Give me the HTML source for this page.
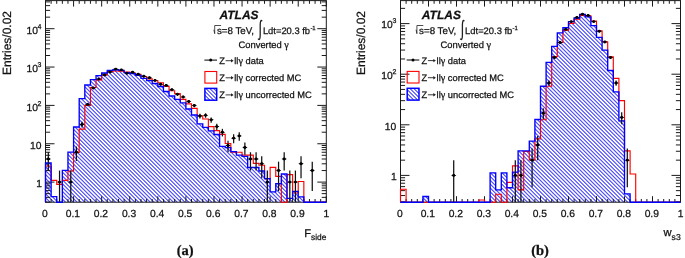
<!DOCTYPE html>
<html><head><meta charset="utf-8"><style>
html,body{margin:0;padding:0;background:#fff;}
body{width:685px;height:258px;overflow:hidden;}
svg{display:block;font-family:"Liberation Sans",sans-serif;fill:#111;text-rendering:geometricPrecision;will-change:transform;}
text{stroke:#111;stroke-width:0.25px;}
</style></head><body>
<svg width="685" height="258" viewBox="0 0 685 258">
<defs><linearGradient id="hatch" gradientUnits="userSpaceOnUse" x1="0" y1="0" x2="1.925" y2="-1.925" spreadMethod="repeat"><stop offset="0.0000" stop-color="rgb(255,255,255)"/><stop offset="0.0417" stop-color="rgb(255,255,255)"/><stop offset="0.0833" stop-color="rgb(255,255,255)"/><stop offset="0.1250" stop-color="rgb(255,255,255)"/><stop offset="0.1667" stop-color="rgb(246,246,255)"/><stop offset="0.2083" stop-color="rgb(220,220,255)"/><stop offset="0.2500" stop-color="rgb(191,191,255)"/><stop offset="0.2917" stop-color="rgb(163,163,255)"/><stop offset="0.3333" stop-color="rgb(136,136,255)"/><stop offset="0.3750" stop-color="rgb(114,114,255)"/><stop offset="0.4167" stop-color="rgb(96,96,255)"/><stop offset="0.4583" stop-color="rgb(85,85,255)"/><stop offset="0.5000" stop-color="rgb(82,82,255)"/><stop offset="0.5417" stop-color="rgb(85,85,255)"/><stop offset="0.5833" stop-color="rgb(96,96,255)"/><stop offset="0.6250" stop-color="rgb(114,114,255)"/><stop offset="0.6667" stop-color="rgb(136,136,255)"/><stop offset="0.7083" stop-color="rgb(163,163,255)"/><stop offset="0.7500" stop-color="rgb(191,191,255)"/><stop offset="0.7917" stop-color="rgb(220,220,255)"/><stop offset="0.8333" stop-color="rgb(246,246,255)"/><stop offset="0.8750" stop-color="rgb(255,255,255)"/><stop offset="0.9167" stop-color="rgb(255,255,255)"/><stop offset="0.9583" stop-color="rgb(255,255,255)"/><stop offset="1.0000" stop-color="rgb(255,255,255)"/></linearGradient></defs>
<path d="M45.5,202.2 L45.5,163 L51.12,163 L51.12,196.6 L56.73,196.6 L56.73,202.2 L62.35,202.2 L62.35,170.3 L67.96,170.3 L67.96,152.1 L73.58,152.1 L73.58,127 L79.2,127 L79.2,98.6 L84.81,98.6 L84.81,85 L90.43,85 L90.43,79.6 L96.04,79.6 L96.04,75.6 L101.66,75.6 L101.66,73 L107.28,73 L107.28,70.4 L112.89,70.4 L112.89,69.7 L118.51,69.7 L118.51,70.3 L124.12,70.3 L124.12,72.6 L129.74,72.6 L129.74,73.6 L135.36,73.6 L135.36,75.4 L140.97,75.4 L140.97,78.3 L146.59,78.3 L146.59,80.6 L152.2,80.6 L152.2,83.5 L157.82,83.5 L157.82,86.5 L163.44,86.5 L163.44,91.5 L169.05,91.5 L169.05,96 L174.67,96 L174.67,99.4 L180.28,99.4 L180.28,102.9 L185.9,102.9 L185.9,109 L191.52,109 L191.52,115 L197.13,115 L197.13,123.8 L202.75,123.8 L202.75,127.3 L208.36,127.3 L208.36,130.8 L213.98,130.8 L213.98,134.5 L219.6,134.5 L219.6,146.3 L225.21,146.3 L225.21,147.6 L230.83,147.6 L230.83,151.6 L236.44,151.6 L236.44,155.1 L242.06,155.1 L242.06,156.3 L247.68,156.3 L247.68,167.5 L253.29,167.5 L253.29,167.5 L258.91,167.5 L258.91,171 L264.52,171 L264.52,178.6 L270.14,178.6 L270.14,191.8 L275.76,191.8 L275.76,183.7 L281.37,183.7 L281.37,174 L286.99,174 L286.99,198.3 L292.6,198.3 L292.6,191.4 L298.22,191.4 L298.22,196.8 L303.84,196.8 L303.84,202.2 L309.45,202.2 L309.45,202.2 L315.07,202.2 L315.07,202.2 L320.68,202.2 L320.68,202.2 L326.3,202.2 L326.3,202.2 Z" fill="url(#hatch)" stroke="none"/>
<g stroke="#1a1a1a" stroke-width="1"><rect x="45.5" y="0.6" width="280.8" height="201.6" fill="none"/>
<line x1="45.5" y1="202.2" x2="45.5" y2="196.2"/>
<line x1="45.5" y1="0.6" x2="45.5" y2="6.6"/>
<line x1="51.12" y1="202.2" x2="51.12" y2="199"/>
<line x1="51.12" y1="0.6" x2="51.12" y2="3.8"/>
<line x1="56.73" y1="202.2" x2="56.73" y2="199"/>
<line x1="56.73" y1="0.6" x2="56.73" y2="3.8"/>
<line x1="62.35" y1="202.2" x2="62.35" y2="199"/>
<line x1="62.35" y1="0.6" x2="62.35" y2="3.8"/>
<line x1="67.96" y1="202.2" x2="67.96" y2="199"/>
<line x1="67.96" y1="0.6" x2="67.96" y2="3.8"/>
<line x1="73.58" y1="202.2" x2="73.58" y2="196.2"/>
<line x1="73.58" y1="0.6" x2="73.58" y2="6.6"/>
<line x1="79.2" y1="202.2" x2="79.2" y2="199"/>
<line x1="79.2" y1="0.6" x2="79.2" y2="3.8"/>
<line x1="84.81" y1="202.2" x2="84.81" y2="199"/>
<line x1="84.81" y1="0.6" x2="84.81" y2="3.8"/>
<line x1="90.43" y1="202.2" x2="90.43" y2="199"/>
<line x1="90.43" y1="0.6" x2="90.43" y2="3.8"/>
<line x1="96.04" y1="202.2" x2="96.04" y2="199"/>
<line x1="96.04" y1="0.6" x2="96.04" y2="3.8"/>
<line x1="101.66" y1="202.2" x2="101.66" y2="196.2"/>
<line x1="101.66" y1="0.6" x2="101.66" y2="6.6"/>
<line x1="107.28" y1="202.2" x2="107.28" y2="199"/>
<line x1="107.28" y1="0.6" x2="107.28" y2="3.8"/>
<line x1="112.89" y1="202.2" x2="112.89" y2="199"/>
<line x1="112.89" y1="0.6" x2="112.89" y2="3.8"/>
<line x1="118.51" y1="202.2" x2="118.51" y2="199"/>
<line x1="118.51" y1="0.6" x2="118.51" y2="3.8"/>
<line x1="124.12" y1="202.2" x2="124.12" y2="199"/>
<line x1="124.12" y1="0.6" x2="124.12" y2="3.8"/>
<line x1="129.74" y1="202.2" x2="129.74" y2="196.2"/>
<line x1="129.74" y1="0.6" x2="129.74" y2="6.6"/>
<line x1="135.36" y1="202.2" x2="135.36" y2="199"/>
<line x1="135.36" y1="0.6" x2="135.36" y2="3.8"/>
<line x1="140.97" y1="202.2" x2="140.97" y2="199"/>
<line x1="140.97" y1="0.6" x2="140.97" y2="3.8"/>
<line x1="146.59" y1="202.2" x2="146.59" y2="199"/>
<line x1="146.59" y1="0.6" x2="146.59" y2="3.8"/>
<line x1="152.2" y1="202.2" x2="152.2" y2="199"/>
<line x1="152.2" y1="0.6" x2="152.2" y2="3.8"/>
<line x1="157.82" y1="202.2" x2="157.82" y2="196.2"/>
<line x1="157.82" y1="0.6" x2="157.82" y2="6.6"/>
<line x1="163.44" y1="202.2" x2="163.44" y2="199"/>
<line x1="163.44" y1="0.6" x2="163.44" y2="3.8"/>
<line x1="169.05" y1="202.2" x2="169.05" y2="199"/>
<line x1="169.05" y1="0.6" x2="169.05" y2="3.8"/>
<line x1="174.67" y1="202.2" x2="174.67" y2="199"/>
<line x1="174.67" y1="0.6" x2="174.67" y2="3.8"/>
<line x1="180.28" y1="202.2" x2="180.28" y2="199"/>
<line x1="180.28" y1="0.6" x2="180.28" y2="3.8"/>
<line x1="185.9" y1="202.2" x2="185.9" y2="196.2"/>
<line x1="185.9" y1="0.6" x2="185.9" y2="6.6"/>
<line x1="191.52" y1="202.2" x2="191.52" y2="199"/>
<line x1="191.52" y1="0.6" x2="191.52" y2="3.8"/>
<line x1="197.13" y1="202.2" x2="197.13" y2="199"/>
<line x1="197.13" y1="0.6" x2="197.13" y2="3.8"/>
<line x1="202.75" y1="202.2" x2="202.75" y2="199"/>
<line x1="202.75" y1="0.6" x2="202.75" y2="3.8"/>
<line x1="208.36" y1="202.2" x2="208.36" y2="199"/>
<line x1="208.36" y1="0.6" x2="208.36" y2="3.8"/>
<line x1="213.98" y1="202.2" x2="213.98" y2="196.2"/>
<line x1="213.98" y1="0.6" x2="213.98" y2="6.6"/>
<line x1="219.6" y1="202.2" x2="219.6" y2="199"/>
<line x1="219.6" y1="0.6" x2="219.6" y2="3.8"/>
<line x1="225.21" y1="202.2" x2="225.21" y2="199"/>
<line x1="225.21" y1="0.6" x2="225.21" y2="3.8"/>
<line x1="230.83" y1="202.2" x2="230.83" y2="199"/>
<line x1="230.83" y1="0.6" x2="230.83" y2="3.8"/>
<line x1="236.44" y1="202.2" x2="236.44" y2="199"/>
<line x1="236.44" y1="0.6" x2="236.44" y2="3.8"/>
<line x1="242.06" y1="202.2" x2="242.06" y2="196.2"/>
<line x1="242.06" y1="0.6" x2="242.06" y2="6.6"/>
<line x1="247.68" y1="202.2" x2="247.68" y2="199"/>
<line x1="247.68" y1="0.6" x2="247.68" y2="3.8"/>
<line x1="253.29" y1="202.2" x2="253.29" y2="199"/>
<line x1="253.29" y1="0.6" x2="253.29" y2="3.8"/>
<line x1="258.91" y1="202.2" x2="258.91" y2="199"/>
<line x1="258.91" y1="0.6" x2="258.91" y2="3.8"/>
<line x1="264.52" y1="202.2" x2="264.52" y2="199"/>
<line x1="264.52" y1="0.6" x2="264.52" y2="3.8"/>
<line x1="270.14" y1="202.2" x2="270.14" y2="196.2"/>
<line x1="270.14" y1="0.6" x2="270.14" y2="6.6"/>
<line x1="275.76" y1="202.2" x2="275.76" y2="199"/>
<line x1="275.76" y1="0.6" x2="275.76" y2="3.8"/>
<line x1="281.37" y1="202.2" x2="281.37" y2="199"/>
<line x1="281.37" y1="0.6" x2="281.37" y2="3.8"/>
<line x1="286.99" y1="202.2" x2="286.99" y2="199"/>
<line x1="286.99" y1="0.6" x2="286.99" y2="3.8"/>
<line x1="292.6" y1="202.2" x2="292.6" y2="199"/>
<line x1="292.6" y1="0.6" x2="292.6" y2="3.8"/>
<line x1="298.22" y1="202.2" x2="298.22" y2="196.2"/>
<line x1="298.22" y1="0.6" x2="298.22" y2="6.6"/>
<line x1="303.84" y1="202.2" x2="303.84" y2="199"/>
<line x1="303.84" y1="0.6" x2="303.84" y2="3.8"/>
<line x1="309.45" y1="202.2" x2="309.45" y2="199"/>
<line x1="309.45" y1="0.6" x2="309.45" y2="3.8"/>
<line x1="315.07" y1="202.2" x2="315.07" y2="199"/>
<line x1="315.07" y1="0.6" x2="315.07" y2="3.8"/>
<line x1="320.68" y1="202.2" x2="320.68" y2="199"/>
<line x1="320.68" y1="0.6" x2="320.68" y2="3.8"/>
<line x1="326.3" y1="202.2" x2="326.3" y2="196.2"/>
<line x1="326.3" y1="0.6" x2="326.3" y2="6.6"/>
<line x1="45.5" y1="202.15" x2="50.1" y2="202.15"/>
<line x1="326.3" y1="202.15" x2="321.7" y2="202.15"/>
<line x1="45.5" y1="197.36" x2="50.1" y2="197.36"/>
<line x1="326.3" y1="197.36" x2="321.7" y2="197.36"/>
<line x1="45.5" y1="193.64" x2="50.1" y2="193.64"/>
<line x1="326.3" y1="193.64" x2="321.7" y2="193.64"/>
<line x1="45.5" y1="190.61" x2="50.1" y2="190.61"/>
<line x1="326.3" y1="190.61" x2="321.7" y2="190.61"/>
<line x1="45.5" y1="188.04" x2="50.1" y2="188.04"/>
<line x1="326.3" y1="188.04" x2="321.7" y2="188.04"/>
<line x1="45.5" y1="185.82" x2="50.1" y2="185.82"/>
<line x1="326.3" y1="185.82" x2="321.7" y2="185.82"/>
<line x1="45.5" y1="183.85" x2="50.1" y2="183.85"/>
<line x1="326.3" y1="183.85" x2="321.7" y2="183.85"/>
<line x1="45.5" y1="182.1" x2="54.5" y2="182.1"/>
<line x1="326.3" y1="182.1" x2="317.3" y2="182.1"/>
<line x1="45.5" y1="170.56" x2="50.1" y2="170.56"/>
<line x1="326.3" y1="170.56" x2="321.7" y2="170.56"/>
<line x1="45.5" y1="163.8" x2="50.1" y2="163.8"/>
<line x1="326.3" y1="163.8" x2="321.7" y2="163.8"/>
<line x1="45.5" y1="159.01" x2="50.1" y2="159.01"/>
<line x1="326.3" y1="159.01" x2="321.7" y2="159.01"/>
<line x1="45.5" y1="155.29" x2="50.1" y2="155.29"/>
<line x1="326.3" y1="155.29" x2="321.7" y2="155.29"/>
<line x1="45.5" y1="152.26" x2="50.1" y2="152.26"/>
<line x1="326.3" y1="152.26" x2="321.7" y2="152.26"/>
<line x1="45.5" y1="149.69" x2="50.1" y2="149.69"/>
<line x1="326.3" y1="149.69" x2="321.7" y2="149.69"/>
<line x1="45.5" y1="147.47" x2="50.1" y2="147.47"/>
<line x1="326.3" y1="147.47" x2="321.7" y2="147.47"/>
<line x1="45.5" y1="145.5" x2="50.1" y2="145.5"/>
<line x1="326.3" y1="145.5" x2="321.7" y2="145.5"/>
<line x1="45.5" y1="143.75" x2="54.5" y2="143.75"/>
<line x1="326.3" y1="143.75" x2="317.3" y2="143.75"/>
<line x1="45.5" y1="132.21" x2="50.1" y2="132.21"/>
<line x1="326.3" y1="132.21" x2="321.7" y2="132.21"/>
<line x1="45.5" y1="125.45" x2="50.1" y2="125.45"/>
<line x1="326.3" y1="125.45" x2="321.7" y2="125.45"/>
<line x1="45.5" y1="120.66" x2="50.1" y2="120.66"/>
<line x1="326.3" y1="120.66" x2="321.7" y2="120.66"/>
<line x1="45.5" y1="116.94" x2="50.1" y2="116.94"/>
<line x1="326.3" y1="116.94" x2="321.7" y2="116.94"/>
<line x1="45.5" y1="113.91" x2="50.1" y2="113.91"/>
<line x1="326.3" y1="113.91" x2="321.7" y2="113.91"/>
<line x1="45.5" y1="111.34" x2="50.1" y2="111.34"/>
<line x1="326.3" y1="111.34" x2="321.7" y2="111.34"/>
<line x1="45.5" y1="109.12" x2="50.1" y2="109.12"/>
<line x1="326.3" y1="109.12" x2="321.7" y2="109.12"/>
<line x1="45.5" y1="107.15" x2="50.1" y2="107.15"/>
<line x1="326.3" y1="107.15" x2="321.7" y2="107.15"/>
<line x1="45.5" y1="105.4" x2="54.5" y2="105.4"/>
<line x1="326.3" y1="105.4" x2="317.3" y2="105.4"/>
<line x1="45.5" y1="93.86" x2="50.1" y2="93.86"/>
<line x1="326.3" y1="93.86" x2="321.7" y2="93.86"/>
<line x1="45.5" y1="87.1" x2="50.1" y2="87.1"/>
<line x1="326.3" y1="87.1" x2="321.7" y2="87.1"/>
<line x1="45.5" y1="82.31" x2="50.1" y2="82.31"/>
<line x1="326.3" y1="82.31" x2="321.7" y2="82.31"/>
<line x1="45.5" y1="78.59" x2="50.1" y2="78.59"/>
<line x1="326.3" y1="78.59" x2="321.7" y2="78.59"/>
<line x1="45.5" y1="75.56" x2="50.1" y2="75.56"/>
<line x1="326.3" y1="75.56" x2="321.7" y2="75.56"/>
<line x1="45.5" y1="72.99" x2="50.1" y2="72.99"/>
<line x1="326.3" y1="72.99" x2="321.7" y2="72.99"/>
<line x1="45.5" y1="70.77" x2="50.1" y2="70.77"/>
<line x1="326.3" y1="70.77" x2="321.7" y2="70.77"/>
<line x1="45.5" y1="68.8" x2="50.1" y2="68.8"/>
<line x1="326.3" y1="68.8" x2="321.7" y2="68.8"/>
<line x1="45.5" y1="67.05" x2="54.5" y2="67.05"/>
<line x1="326.3" y1="67.05" x2="317.3" y2="67.05"/>
<line x1="45.5" y1="55.51" x2="50.1" y2="55.51"/>
<line x1="326.3" y1="55.51" x2="321.7" y2="55.51"/>
<line x1="45.5" y1="48.75" x2="50.1" y2="48.75"/>
<line x1="326.3" y1="48.75" x2="321.7" y2="48.75"/>
<line x1="45.5" y1="43.96" x2="50.1" y2="43.96"/>
<line x1="326.3" y1="43.96" x2="321.7" y2="43.96"/>
<line x1="45.5" y1="40.24" x2="50.1" y2="40.24"/>
<line x1="326.3" y1="40.24" x2="321.7" y2="40.24"/>
<line x1="45.5" y1="37.21" x2="50.1" y2="37.21"/>
<line x1="326.3" y1="37.21" x2="321.7" y2="37.21"/>
<line x1="45.5" y1="34.64" x2="50.1" y2="34.64"/>
<line x1="326.3" y1="34.64" x2="321.7" y2="34.64"/>
<line x1="45.5" y1="32.42" x2="50.1" y2="32.42"/>
<line x1="326.3" y1="32.42" x2="321.7" y2="32.42"/>
<line x1="45.5" y1="30.45" x2="50.1" y2="30.45"/>
<line x1="326.3" y1="30.45" x2="321.7" y2="30.45"/>
<line x1="45.5" y1="28.7" x2="54.5" y2="28.7"/>
<line x1="326.3" y1="28.7" x2="317.3" y2="28.7"/>
<line x1="45.5" y1="17.16" x2="50.1" y2="17.16"/>
<line x1="326.3" y1="17.16" x2="321.7" y2="17.16"/>
<line x1="45.5" y1="10.4" x2="50.1" y2="10.4"/>
<line x1="326.3" y1="10.4" x2="321.7" y2="10.4"/>
<line x1="45.5" y1="5.61" x2="50.1" y2="5.61"/>
<line x1="326.3" y1="5.61" x2="321.7" y2="5.61"/>
<line x1="45.5" y1="1.89" x2="50.1" y2="1.89"/>
<line x1="326.3" y1="1.89" x2="321.7" y2="1.89"/></g>
<path d="M45.5,202.2 L45.5,166 L51.12,166 L51.12,180.3 L56.73,180.3 L56.73,184.3 L62.35,184.3 L62.35,180.3 L67.96,180.3 L67.96,171 L73.58,171 L73.58,152.4 L79.2,152.4 L79.2,129.1 L84.81,129.1 L84.81,105.3 L90.43,105.3 L90.43,87.5 L96.04,87.5 L96.04,79.9 L101.66,79.9 L101.66,74.8 L107.28,74.8 L107.28,71.6 L112.89,71.6 L112.89,71 L118.51,71 L118.51,71.2 L124.12,71.2 L124.12,72 L129.74,72 L129.74,73 L135.36,73 L135.36,74.2 L140.97,74.2 L140.97,76.5 L146.59,76.5 L146.59,78.9 L152.2,78.9 L152.2,80.6 L157.82,80.6 L157.82,82.7 L163.44,82.7 L163.44,86.4 L169.05,86.4 L169.05,90.7 L174.67,90.7 L174.67,93.6 L180.28,93.6 L180.28,99.4 L185.9,99.4 L185.9,103.8 L191.52,103.8 L191.52,108.4 L197.13,108.4 L197.13,115.7 L202.75,115.7 L202.75,119 L208.36,119 L208.36,126.6 L213.98,126.6 L213.98,130.6 L219.6,130.6 L219.6,134.3 L225.21,134.3 L225.21,143.5 L230.83,143.5 L230.83,152.2 L236.44,152.2 L236.44,152.2 L242.06,152.2 L242.06,155.1 L247.68,155.1 L247.68,155.1 L253.29,155.1 L253.29,163.3 L258.91,163.3 L258.91,165.2 L264.52,165.2 L264.52,178.6 L270.14,178.6 L270.14,167.4 L275.76,167.4 L275.76,176.3 L281.37,176.3 L281.37,202.2 L286.99,202.2 L286.99,174.6 L292.6,174.6 L292.6,193 L298.22,193 L298.22,181.5 L303.84,181.5 L303.84,202.2 L309.45,202.2 L309.45,202.2 L315.07,202.2 L315.07,202.2 L320.68,202.2 L320.68,202.2 L326.3,202.2 L326.3,202.2" fill="none" stroke="#f00" stroke-width="1.15"/>
<path d="M45.5,202.2 L45.5,163 L51.12,163 L51.12,196.6 L56.73,196.6 L56.73,202.2 L62.35,202.2 L62.35,170.3 L67.96,170.3 L67.96,152.1 L73.58,152.1 L73.58,127 L79.2,127 L79.2,98.6 L84.81,98.6 L84.81,85 L90.43,85 L90.43,79.6 L96.04,79.6 L96.04,75.6 L101.66,75.6 L101.66,73 L107.28,73 L107.28,70.4 L112.89,70.4 L112.89,69.7 L118.51,69.7 L118.51,70.3 L124.12,70.3 L124.12,72.6 L129.74,72.6 L129.74,73.6 L135.36,73.6 L135.36,75.4 L140.97,75.4 L140.97,78.3 L146.59,78.3 L146.59,80.6 L152.2,80.6 L152.2,83.5 L157.82,83.5 L157.82,86.5 L163.44,86.5 L163.44,91.5 L169.05,91.5 L169.05,96 L174.67,96 L174.67,99.4 L180.28,99.4 L180.28,102.9 L185.9,102.9 L185.9,109 L191.52,109 L191.52,115 L197.13,115 L197.13,123.8 L202.75,123.8 L202.75,127.3 L208.36,127.3 L208.36,130.8 L213.98,130.8 L213.98,134.5 L219.6,134.5 L219.6,146.3 L225.21,146.3 L225.21,147.6 L230.83,147.6 L230.83,151.6 L236.44,151.6 L236.44,155.1 L242.06,155.1 L242.06,156.3 L247.68,156.3 L247.68,167.5 L253.29,167.5 L253.29,167.5 L258.91,167.5 L258.91,171 L264.52,171 L264.52,178.6 L270.14,178.6 L270.14,191.8 L275.76,191.8 L275.76,183.7 L281.37,183.7 L281.37,174 L286.99,174 L286.99,198.3 L292.6,198.3 L292.6,191.4 L298.22,191.4 L298.22,196.8 L303.84,196.8 L303.84,202.2 L309.45,202.2 L309.45,202.2 L315.07,202.2 L315.07,202.2 L320.68,202.2 L320.68,202.2 L326.3,202.2 L326.3,202.2" fill="none" stroke="#00f" stroke-width="1.35"/>
<g stroke="#111" stroke-width="1.25" fill="#000"><line x1="48.31" y1="152.26" x2="48.31" y2="170.56"/>
<circle cx="48.31" cy="159.01" r="1.45" stroke="none"/>
<path d="M45.61,159.01 L48.31,157.81 L51.01,159.01 L48.31,160.21 Z" stroke="none"/>
<line x1="59.54" y1="170.56" x2="59.54" y2="202.2"/>
<circle cx="59.54" cy="182.1" r="1.45" stroke="none"/>
<path d="M56.84,182.1 L59.54,180.9 L62.24,182.1 L59.54,183.3 Z" stroke="none"/>
<line x1="70.77" y1="170.56" x2="70.77" y2="202.2"/>
<circle cx="70.77" cy="182.1" r="1.45" stroke="none"/>
<path d="M68.07,182.1 L70.77,180.9 L73.47,182.1 L70.77,183.3 Z" stroke="none"/>
<line x1="76.39" y1="146.56" x2="76.39" y2="161"/>
<circle cx="76.39" cy="152.26" r="1.45" stroke="none"/>
<path d="M73.69,152.26 L76.39,151.06 L79.09,152.26 L76.39,153.46 Z" stroke="none"/>
<line x1="82" y1="121.67" x2="82" y2="127.62"/>
<circle cx="82" cy="124.38" r="1.45" stroke="none"/>
<path d="M79.3,124.38 L82,123.18 L84.7,124.38 L82,125.58 Z" stroke="none"/>
<line x1="87.62" y1="102.89" x2="87.62" y2="106.13"/>
<circle cx="87.62" cy="104.43" r="1.45" stroke="none"/>
<path d="M84.92,104.43 L87.62,103.23 L90.32,104.43 L87.62,105.63 Z" stroke="none"/>
<line x1="93.24" y1="87.11" x2="93.24" y2="89.09"/>
<circle cx="93.24" cy="88.07" r="1.45" stroke="none"/>
<path d="M90.54,88.07 L93.24,86.87 L95.94,88.07 L93.24,89.27 Z" stroke="none"/>
<line x1="98.85" y1="78.36" x2="98.85" y2="79.88"/>
<circle cx="98.85" cy="79.1" r="1.45" stroke="none"/>
<path d="M96.15,79.1 L98.85,77.9 L101.55,79.1 L98.85,80.3 Z" stroke="none"/>
<line x1="104.47" y1="74.36" x2="104.47" y2="75.69"/>
<circle cx="104.47" cy="75.01" r="1.45" stroke="none"/>
<path d="M101.77,75.01 L104.47,73.81 L107.17,75.01 L104.47,76.21 Z" stroke="none"/>
<line x1="110.08" y1="71.4" x2="110.08" y2="72.62"/>
<circle cx="110.08" cy="72" r="1.45" stroke="none"/>
<path d="M107.38,72 L110.08,70.8 L112.78,72 L110.08,73.2 Z" stroke="none"/>
<line x1="115.7" y1="68.55" x2="115.7" y2="69.67"/>
<circle cx="115.7" cy="69.1" r="1.45" stroke="none"/>
<path d="M113,69.1 L115.7,67.9 L118.4,69.1 L115.7,70.3 Z" stroke="none"/>
<line x1="121.32" y1="69.33" x2="121.32" y2="70.48"/>
<circle cx="121.32" cy="69.89" r="1.45" stroke="none"/>
<path d="M118.62,69.89 L121.32,68.69 L124.02,69.89 L121.32,71.09 Z" stroke="none"/>
<line x1="126.93" y1="72.58" x2="126.93" y2="73.85"/>
<circle cx="126.93" cy="73.21" r="1.45" stroke="none"/>
<path d="M124.23,73.21 L126.93,72.01 L129.63,73.21 L126.93,74.41 Z" stroke="none"/>
<line x1="132.55" y1="71.6" x2="132.55" y2="72.83"/>
<circle cx="132.55" cy="72.2" r="1.45" stroke="none"/>
<path d="M129.85,72.2 L132.55,71 L135.25,72.2 L132.55,73.4 Z" stroke="none"/>
<line x1="138.16" y1="73.56" x2="138.16" y2="74.87"/>
<circle cx="138.16" cy="74.2" r="1.45" stroke="none"/>
<path d="M135.46,74.2 L138.16,73 L140.86,74.2 L138.16,75.4 Z" stroke="none"/>
<line x1="143.78" y1="75.53" x2="143.78" y2="76.92"/>
<circle cx="143.78" cy="76.21" r="1.45" stroke="none"/>
<path d="M141.08,76.21 L143.78,75.01 L146.48,76.21 L143.78,77.41 Z" stroke="none"/>
<line x1="149.4" y1="76.98" x2="149.4" y2="78.43"/>
<circle cx="149.4" cy="77.69" r="1.45" stroke="none"/>
<path d="M146.7,77.69 L149.4,76.49 L152.1,77.69 L149.4,78.89 Z" stroke="none"/>
<line x1="155.01" y1="79.62" x2="155.01" y2="81.19"/>
<circle cx="155.01" cy="80.39" r="1.45" stroke="none"/>
<path d="M152.31,80.39 L155.01,79.19 L157.71,80.39 L155.01,81.59 Z" stroke="none"/>
<line x1="160.63" y1="83.44" x2="160.63" y2="85.21"/>
<circle cx="160.63" cy="84.3" r="1.45" stroke="none"/>
<path d="M157.93,84.3 L160.63,83.1 L163.33,84.3 L160.63,85.5 Z" stroke="none"/>
<line x1="166.24" y1="84.62" x2="166.24" y2="86.46"/>
<circle cx="166.24" cy="85.51" r="1.45" stroke="none"/>
<path d="M163.54,85.51 L166.24,84.31 L168.94,85.51 L166.24,86.71 Z" stroke="none"/>
<line x1="171.86" y1="88.8" x2="171.86" y2="90.89"/>
<circle cx="171.86" cy="89.81" r="1.45" stroke="none"/>
<path d="M169.16,89.81 L171.86,88.61 L174.56,89.81 L171.86,91.01 Z" stroke="none"/>
<line x1="177.48" y1="93.13" x2="177.48" y2="95.51"/>
<circle cx="177.48" cy="94.28" r="1.45" stroke="none"/>
<path d="M174.78,94.28 L177.48,93.08 L180.18,94.28 L177.48,95.48 Z" stroke="none"/>
<line x1="183.09" y1="95.71" x2="183.09" y2="98.3"/>
<circle cx="183.09" cy="96.96" r="1.45" stroke="none"/>
<path d="M180.39,96.96 L183.09,95.76 L185.79,96.96 L183.09,98.16 Z" stroke="none"/>
<line x1="188.71" y1="100.13" x2="188.71" y2="103.1"/>
<circle cx="188.71" cy="101.55" r="1.45" stroke="none"/>
<path d="M186.01,101.55 L188.71,100.35 L191.41,101.55 L188.71,102.75 Z" stroke="none"/>
<line x1="194.32" y1="103.97" x2="194.32" y2="107.33"/>
<circle cx="194.32" cy="105.57" r="1.45" stroke="none"/>
<path d="M191.62,105.57 L194.32,104.37 L197.02,105.57 L194.32,106.77 Z" stroke="none"/>
<line x1="199.94" y1="113.83" x2="199.94" y2="118.43"/>
<circle cx="199.94" cy="115.97" r="1.45" stroke="none"/>
<path d="M197.24,115.97 L199.94,114.77 L202.64,115.97 L199.94,117.17 Z" stroke="none"/>
<line x1="205.56" y1="113.25" x2="205.56" y2="117.77"/>
<circle cx="205.56" cy="115.36" r="1.45" stroke="none"/>
<path d="M202.86,115.36 L205.56,114.16 L208.26,115.36 L205.56,116.56 Z" stroke="none"/>
<line x1="211.17" y1="117.46" x2="211.17" y2="122.64"/>
<circle cx="211.17" cy="119.85" r="1.45" stroke="none"/>
<path d="M208.47,119.85 L211.17,118.65 L213.87,119.85 L211.17,121.05 Z" stroke="none"/>
<line x1="216.79" y1="123.72" x2="216.79" y2="130.09"/>
<circle cx="216.79" cy="126.6" r="1.45" stroke="none"/>
<path d="M214.09,126.6 L216.79,125.4 L219.49,126.6 L216.79,127.8 Z" stroke="none"/>
<line x1="222.4" y1="128.84" x2="222.4" y2="136.42"/>
<circle cx="222.4" cy="132.21" r="1.45" stroke="none"/>
<path d="M219.7,132.21 L222.4,131.01 L225.1,132.21 L222.4,133.41 Z" stroke="none"/>
<line x1="228.02" y1="140.71" x2="228.02" y2="152.26"/>
<circle cx="228.02" cy="145.5" r="1.45" stroke="none"/>
<path d="M225.32,145.5 L228.02,144.3 L230.72,145.5 L228.02,146.7 Z" stroke="none"/>
<line x1="233.64" y1="134.2" x2="233.64" y2="143.33"/>
<circle cx="233.64" cy="138.15" r="1.45" stroke="none"/>
<path d="M230.94,138.15 L233.64,136.95 L236.34,138.15 L233.64,139.35 Z" stroke="none"/>
<line x1="239.25" y1="132.21" x2="239.25" y2="140.71"/>
<circle cx="239.25" cy="135.92" r="1.45" stroke="none"/>
<path d="M236.55,135.92 L239.25,134.72 L241.95,135.92 L239.25,137.12 Z" stroke="none"/>
<line x1="244.87" y1="142.42" x2="244.87" y2="154.73"/>
<circle cx="244.87" cy="147.47" r="1.45" stroke="none"/>
<path d="M242.17,147.47 L244.87,146.27 L247.57,147.47 L244.87,148.67 Z" stroke="none"/>
<line x1="250.48" y1="152.26" x2="250.48" y2="170.56"/>
<circle cx="250.48" cy="159.01" r="1.45" stroke="none"/>
<path d="M247.78,159.01 L250.48,157.81 L253.18,159.01 L250.48,160.21 Z" stroke="none"/>
<line x1="256.1" y1="152.26" x2="256.1" y2="170.56"/>
<circle cx="256.1" cy="159.01" r="1.45" stroke="none"/>
<path d="M253.4,159.01 L256.1,157.81 L258.8,159.01 L256.1,160.21 Z" stroke="none"/>
<line x1="261.72" y1="156.21" x2="261.72" y2="178.15"/>
<circle cx="261.72" cy="163.8" r="1.45" stroke="none"/>
<path d="M259.02,163.8 L261.72,162.6 L264.42,163.8 L261.72,165 Z" stroke="none"/>
<line x1="267.33" y1="170.56" x2="267.33" y2="202.2"/>
<circle cx="267.33" cy="182.1" r="1.45" stroke="none"/>
<path d="M264.63,182.1 L267.33,180.9 L270.03,182.1 L267.33,183.3 Z" stroke="none"/>
<line x1="278.56" y1="161.65" x2="278.56" y2="191.01"/>
<circle cx="278.56" cy="170.56" r="1.45" stroke="none"/>
<path d="M275.86,170.56 L278.56,169.36 L281.26,170.56 L278.56,171.76 Z" stroke="none"/>
<line x1="284.18" y1="152.26" x2="284.18" y2="170.56"/>
<circle cx="284.18" cy="159.01" r="1.45" stroke="none"/>
<path d="M281.48,159.01 L284.18,157.81 L286.88,159.01 L284.18,160.21 Z" stroke="none"/>
<line x1="289.8" y1="170.56" x2="289.8" y2="202.2"/>
<circle cx="289.8" cy="182.1" r="1.45" stroke="none"/>
<path d="M287.1,182.1 L289.8,180.9 L292.5,182.1 L289.8,183.3 Z" stroke="none"/>
<line x1="295.41" y1="170.56" x2="295.41" y2="202.2"/>
<circle cx="295.41" cy="182.1" r="1.45" stroke="none"/>
<path d="M292.71,182.1 L295.41,180.9 L298.11,182.1 L295.41,183.3 Z" stroke="none"/>
<line x1="301.03" y1="156.21" x2="301.03" y2="178.15"/>
<circle cx="301.03" cy="163.8" r="1.45" stroke="none"/>
<path d="M298.33,163.8 L301.03,162.6 L303.73,163.8 L301.03,165 Z" stroke="none"/>
<line x1="312.26" y1="161.65" x2="312.26" y2="191.01"/>
<circle cx="312.26" cy="170.56" r="1.45" stroke="none"/>
<path d="M309.56,170.56 L312.26,169.36 L314.96,170.56 L312.26,171.76 Z" stroke="none"/></g>
<g font-size="10.3"><text x="44.8" y="216.6" text-anchor="middle">0</text>
<text x="72.88" y="216.6" text-anchor="middle">0.1</text>
<text x="100.96" y="216.6" text-anchor="middle">0.2</text>
<text x="129.04" y="216.6" text-anchor="middle">0.3</text>
<text x="157.12" y="216.6" text-anchor="middle">0.4</text>
<text x="185.2" y="216.6" text-anchor="middle">0.5</text>
<text x="213.28" y="216.6" text-anchor="middle">0.6</text>
<text x="241.36" y="216.6" text-anchor="middle">0.7</text>
<text x="269.44" y="216.6" text-anchor="middle">0.8</text>
<text x="297.52" y="216.6" text-anchor="middle">0.9</text>
<text x="326.3" y="216.6" text-anchor="middle">1</text></g>
<g font-size="10.3"><text x="42" y="186.7" text-anchor="end">1</text>
<text x="41.4" y="148.95" text-anchor="end">10</text>
<text x="37.9" y="110.7" text-anchor="end">10</text>
<text x="37.6" y="105.7" font-size="7">2</text>
<text x="37.9" y="72.35" text-anchor="end">10</text>
<text x="37.6" y="67.35" font-size="7">3</text>
<text x="37.9" y="34" text-anchor="end">10</text>
<text x="37.6" y="29" font-size="7">4</text></g>
<text x="304.2" y="236.5" font-size="11.2">F</text><text x="311.1" y="240" font-size="8.3">side</text>
<text transform="translate(10.8,75) rotate(-90)" font-size="12">Entries/0.02</text>
<text x="219.5" y="18.8" font-size="12" font-weight="bold" font-style="italic">ATLAS</text>
<path d="M213.9,29.7 L214.7,33.7 L214.7,25.5 L221.1,25.5" fill="none" stroke="#222" stroke-width="0.8"/>
<text x="216.9" y="33.7" font-size="9.75">s=8 TeV,</text>
<path d="M262.1,21.2 C261.1,19.1 260.3,21.1 260.2,24.7 L260.2,35.5 C260.1,39.1 259.3,40.5 258.1,38.7" fill="none" stroke="#222" stroke-width="1.3"/>
<text x="262.9" y="33.7" font-size="9.4">Ldt=20.3 fb<tspan dx="0.3" dy="-3.7" font-size="5.9">-1</tspan></text>
<text x="238.5" y="48.1" font-size="9.4">Converted <tspan font-family="Liberation Serif" font-size="10.2">γ</tspan></text>
<line x1="204.4" y1="60.1" x2="217" y2="60.1" stroke="#000" stroke-width="1"/>
<circle cx="210.7" cy="60.1" r="1.5" fill="#000"/>
<text x="219.2" y="63.7" font-size="9.3">Z</text>
<path d="M225.6,60.7 L232.4,60.7" stroke="#222" stroke-width="0.9" fill="none"/>
<path d="M231,59 L233.6,60.7 L231,62.4 Z" fill="#222"/>
<text x="234.3" y="63.7" font-size="9.3">ll<tspan font-family="Liberation Serif" font-size="10.2">γ</tspan> data</text>
<rect x="204.9" y="71.5" width="11.8" height="11.6" fill="none" stroke="#f00" stroke-width="1.1"/>
<text x="219.2" y="80.8" font-size="9.3">Z</text>
<path d="M225.6,77.8 L232.4,77.8" stroke="#222" stroke-width="0.9" fill="none"/>
<path d="M231,76.1 L233.6,77.8 L231,79.5 Z" fill="#222"/>
<text x="234.3" y="80.8" font-size="9.3">ll<tspan font-family="Liberation Serif" font-size="10.2">γ</tspan> corrected MC</text>
<rect x="204.9" y="88.4" width="11.8" height="11.8" fill="url(#hatch)" stroke="#00f" stroke-width="1.5"/>
<text x="219.2" y="97.9" font-size="9.3">Z</text>
<path d="M225.6,94.9 L232.4,94.9" stroke="#222" stroke-width="0.9" fill="none"/>
<path d="M231,93.2 L233.6,94.9 L231,96.6 Z" fill="#222"/>
<text x="234.3" y="97.9" font-size="9.3">ll<tspan font-family="Liberation Serif" font-size="10.2">γ</tspan> uncorrected MC</text>
<path d="M400.5,202.2 L400.5,202.2 L406.1,202.2 L406.1,202.2 L411.7,202.2 L411.7,202.2 L417.3,202.2 L417.3,202.2 L422.9,202.2 L422.9,196.5 L428.5,196.5 L428.5,202.2 L434.1,202.2 L434.1,202.2 L439.7,202.2 L439.7,202.2 L445.3,202.2 L445.3,202.2 L450.9,202.2 L450.9,202.2 L456.5,202.2 L456.5,202.2 L462.1,202.2 L462.1,202.2 L467.7,202.2 L467.7,202.2 L473.3,202.2 L473.3,202.2 L478.9,202.2 L478.9,202.2 L484.5,202.2 L484.5,202.2 L490.1,202.2 L490.1,172.9 L495.7,172.9 L495.7,189.9 L501.3,189.9 L501.3,172.9 L506.9,172.9 L506.9,187.7 L512.5,187.7 L512.5,172.1 L518.1,172.1 L518.1,150.8 L523.7,150.8 L523.7,150.8 L529.3,150.8 L529.3,141.1 L534.9,141.1 L534.9,119.5 L540.5,119.5 L540.5,86.2 L546.1,86.2 L546.1,62.3 L551.7,62.3 L551.7,46.3 L557.3,46.3 L557.3,32.9 L562.9,32.9 L562.9,27.7 L568.5,27.7 L568.5,21.6 L574.1,21.6 L574.1,18 L579.7,18 L579.7,14.4 L585.3,14.4 L585.3,16.9 L590.9,16.9 L590.9,25.6 L596.5,25.6 L596.5,37.3 L602.1,37.3 L602.1,50.1 L607.7,50.1 L607.7,70.5 L613.3,70.5 L613.3,91.9 L618.9,91.9 L618.9,120.8 L624.5,120.8 L624.5,193.8 L630.1,193.8 L630.1,202.2 L635.7,202.2 L635.7,202.2 L641.3,202.2 L641.3,202.2 L646.9,202.2 L646.9,202.2 L652.5,202.2 L652.5,202.2 L658.1,202.2 L658.1,202.2 L663.7,202.2 L663.7,202.2 L669.3,202.2 L669.3,202.2 L674.9,202.2 L674.9,202.2 L680.5,202.2 L680.5,202.2 Z" fill="url(#hatch)" stroke="none"/>
<g stroke="#1a1a1a" stroke-width="1"><rect x="400.5" y="0.6" width="280" height="201.6" fill="none"/>
<line x1="400.5" y1="202.2" x2="400.5" y2="196.2"/>
<line x1="400.5" y1="0.6" x2="400.5" y2="6.6"/>
<line x1="406.1" y1="202.2" x2="406.1" y2="199"/>
<line x1="406.1" y1="0.6" x2="406.1" y2="3.8"/>
<line x1="411.7" y1="202.2" x2="411.7" y2="199"/>
<line x1="411.7" y1="0.6" x2="411.7" y2="3.8"/>
<line x1="417.3" y1="202.2" x2="417.3" y2="199"/>
<line x1="417.3" y1="0.6" x2="417.3" y2="3.8"/>
<line x1="422.9" y1="202.2" x2="422.9" y2="199"/>
<line x1="422.9" y1="0.6" x2="422.9" y2="3.8"/>
<line x1="428.5" y1="202.2" x2="428.5" y2="196.2"/>
<line x1="428.5" y1="0.6" x2="428.5" y2="6.6"/>
<line x1="434.1" y1="202.2" x2="434.1" y2="199"/>
<line x1="434.1" y1="0.6" x2="434.1" y2="3.8"/>
<line x1="439.7" y1="202.2" x2="439.7" y2="199"/>
<line x1="439.7" y1="0.6" x2="439.7" y2="3.8"/>
<line x1="445.3" y1="202.2" x2="445.3" y2="199"/>
<line x1="445.3" y1="0.6" x2="445.3" y2="3.8"/>
<line x1="450.9" y1="202.2" x2="450.9" y2="199"/>
<line x1="450.9" y1="0.6" x2="450.9" y2="3.8"/>
<line x1="456.5" y1="202.2" x2="456.5" y2="196.2"/>
<line x1="456.5" y1="0.6" x2="456.5" y2="6.6"/>
<line x1="462.1" y1="202.2" x2="462.1" y2="199"/>
<line x1="462.1" y1="0.6" x2="462.1" y2="3.8"/>
<line x1="467.7" y1="202.2" x2="467.7" y2="199"/>
<line x1="467.7" y1="0.6" x2="467.7" y2="3.8"/>
<line x1="473.3" y1="202.2" x2="473.3" y2="199"/>
<line x1="473.3" y1="0.6" x2="473.3" y2="3.8"/>
<line x1="478.9" y1="202.2" x2="478.9" y2="199"/>
<line x1="478.9" y1="0.6" x2="478.9" y2="3.8"/>
<line x1="484.5" y1="202.2" x2="484.5" y2="196.2"/>
<line x1="484.5" y1="0.6" x2="484.5" y2="6.6"/>
<line x1="490.1" y1="202.2" x2="490.1" y2="199"/>
<line x1="490.1" y1="0.6" x2="490.1" y2="3.8"/>
<line x1="495.7" y1="202.2" x2="495.7" y2="199"/>
<line x1="495.7" y1="0.6" x2="495.7" y2="3.8"/>
<line x1="501.3" y1="202.2" x2="501.3" y2="199"/>
<line x1="501.3" y1="0.6" x2="501.3" y2="3.8"/>
<line x1="506.9" y1="202.2" x2="506.9" y2="199"/>
<line x1="506.9" y1="0.6" x2="506.9" y2="3.8"/>
<line x1="512.5" y1="202.2" x2="512.5" y2="196.2"/>
<line x1="512.5" y1="0.6" x2="512.5" y2="6.6"/>
<line x1="518.1" y1="202.2" x2="518.1" y2="199"/>
<line x1="518.1" y1="0.6" x2="518.1" y2="3.8"/>
<line x1="523.7" y1="202.2" x2="523.7" y2="199"/>
<line x1="523.7" y1="0.6" x2="523.7" y2="3.8"/>
<line x1="529.3" y1="202.2" x2="529.3" y2="199"/>
<line x1="529.3" y1="0.6" x2="529.3" y2="3.8"/>
<line x1="534.9" y1="202.2" x2="534.9" y2="199"/>
<line x1="534.9" y1="0.6" x2="534.9" y2="3.8"/>
<line x1="540.5" y1="202.2" x2="540.5" y2="196.2"/>
<line x1="540.5" y1="0.6" x2="540.5" y2="6.6"/>
<line x1="546.1" y1="202.2" x2="546.1" y2="199"/>
<line x1="546.1" y1="0.6" x2="546.1" y2="3.8"/>
<line x1="551.7" y1="202.2" x2="551.7" y2="199"/>
<line x1="551.7" y1="0.6" x2="551.7" y2="3.8"/>
<line x1="557.3" y1="202.2" x2="557.3" y2="199"/>
<line x1="557.3" y1="0.6" x2="557.3" y2="3.8"/>
<line x1="562.9" y1="202.2" x2="562.9" y2="199"/>
<line x1="562.9" y1="0.6" x2="562.9" y2="3.8"/>
<line x1="568.5" y1="202.2" x2="568.5" y2="196.2"/>
<line x1="568.5" y1="0.6" x2="568.5" y2="6.6"/>
<line x1="574.1" y1="202.2" x2="574.1" y2="199"/>
<line x1="574.1" y1="0.6" x2="574.1" y2="3.8"/>
<line x1="579.7" y1="202.2" x2="579.7" y2="199"/>
<line x1="579.7" y1="0.6" x2="579.7" y2="3.8"/>
<line x1="585.3" y1="202.2" x2="585.3" y2="199"/>
<line x1="585.3" y1="0.6" x2="585.3" y2="3.8"/>
<line x1="590.9" y1="202.2" x2="590.9" y2="199"/>
<line x1="590.9" y1="0.6" x2="590.9" y2="3.8"/>
<line x1="596.5" y1="202.2" x2="596.5" y2="196.2"/>
<line x1="596.5" y1="0.6" x2="596.5" y2="6.6"/>
<line x1="602.1" y1="202.2" x2="602.1" y2="199"/>
<line x1="602.1" y1="0.6" x2="602.1" y2="3.8"/>
<line x1="607.7" y1="202.2" x2="607.7" y2="199"/>
<line x1="607.7" y1="0.6" x2="607.7" y2="3.8"/>
<line x1="613.3" y1="202.2" x2="613.3" y2="199"/>
<line x1="613.3" y1="0.6" x2="613.3" y2="3.8"/>
<line x1="618.9" y1="202.2" x2="618.9" y2="199"/>
<line x1="618.9" y1="0.6" x2="618.9" y2="3.8"/>
<line x1="624.5" y1="202.2" x2="624.5" y2="196.2"/>
<line x1="624.5" y1="0.6" x2="624.5" y2="6.6"/>
<line x1="630.1" y1="202.2" x2="630.1" y2="199"/>
<line x1="630.1" y1="0.6" x2="630.1" y2="3.8"/>
<line x1="635.7" y1="202.2" x2="635.7" y2="199"/>
<line x1="635.7" y1="0.6" x2="635.7" y2="3.8"/>
<line x1="641.3" y1="202.2" x2="641.3" y2="199"/>
<line x1="641.3" y1="0.6" x2="641.3" y2="3.8"/>
<line x1="646.9" y1="202.2" x2="646.9" y2="199"/>
<line x1="646.9" y1="0.6" x2="646.9" y2="3.8"/>
<line x1="652.5" y1="202.2" x2="652.5" y2="196.2"/>
<line x1="652.5" y1="0.6" x2="652.5" y2="6.6"/>
<line x1="658.1" y1="202.2" x2="658.1" y2="199"/>
<line x1="658.1" y1="0.6" x2="658.1" y2="3.8"/>
<line x1="663.7" y1="202.2" x2="663.7" y2="199"/>
<line x1="663.7" y1="0.6" x2="663.7" y2="3.8"/>
<line x1="669.3" y1="202.2" x2="669.3" y2="199"/>
<line x1="669.3" y1="0.6" x2="669.3" y2="3.8"/>
<line x1="674.9" y1="202.2" x2="674.9" y2="199"/>
<line x1="674.9" y1="0.6" x2="674.9" y2="3.8"/>
<line x1="680.5" y1="202.2" x2="680.5" y2="196.2"/>
<line x1="680.5" y1="0.6" x2="680.5" y2="6.6"/>
<line x1="400.5" y1="201.86" x2="405.1" y2="201.86"/>
<line x1="680.5" y1="201.86" x2="675.9" y2="201.86"/>
<line x1="400.5" y1="195.54" x2="405.1" y2="195.54"/>
<line x1="680.5" y1="195.54" x2="675.9" y2="195.54"/>
<line x1="400.5" y1="190.63" x2="405.1" y2="190.63"/>
<line x1="680.5" y1="190.63" x2="675.9" y2="190.63"/>
<line x1="400.5" y1="186.63" x2="405.1" y2="186.63"/>
<line x1="680.5" y1="186.63" x2="675.9" y2="186.63"/>
<line x1="400.5" y1="183.24" x2="405.1" y2="183.24"/>
<line x1="680.5" y1="183.24" x2="675.9" y2="183.24"/>
<line x1="400.5" y1="180.3" x2="405.1" y2="180.3"/>
<line x1="680.5" y1="180.3" x2="675.9" y2="180.3"/>
<line x1="400.5" y1="177.72" x2="405.1" y2="177.72"/>
<line x1="680.5" y1="177.72" x2="675.9" y2="177.72"/>
<line x1="400.5" y1="175.4" x2="409.5" y2="175.4"/>
<line x1="680.5" y1="175.4" x2="671.5" y2="175.4"/>
<line x1="400.5" y1="160.17" x2="405.1" y2="160.17"/>
<line x1="680.5" y1="160.17" x2="675.9" y2="160.17"/>
<line x1="400.5" y1="151.26" x2="405.1" y2="151.26"/>
<line x1="680.5" y1="151.26" x2="675.9" y2="151.26"/>
<line x1="400.5" y1="144.94" x2="405.1" y2="144.94"/>
<line x1="680.5" y1="144.94" x2="675.9" y2="144.94"/>
<line x1="400.5" y1="140.03" x2="405.1" y2="140.03"/>
<line x1="680.5" y1="140.03" x2="675.9" y2="140.03"/>
<line x1="400.5" y1="136.03" x2="405.1" y2="136.03"/>
<line x1="680.5" y1="136.03" x2="675.9" y2="136.03"/>
<line x1="400.5" y1="132.64" x2="405.1" y2="132.64"/>
<line x1="680.5" y1="132.64" x2="675.9" y2="132.64"/>
<line x1="400.5" y1="129.7" x2="405.1" y2="129.7"/>
<line x1="680.5" y1="129.7" x2="675.9" y2="129.7"/>
<line x1="400.5" y1="127.12" x2="405.1" y2="127.12"/>
<line x1="680.5" y1="127.12" x2="675.9" y2="127.12"/>
<line x1="400.5" y1="124.8" x2="409.5" y2="124.8"/>
<line x1="680.5" y1="124.8" x2="671.5" y2="124.8"/>
<line x1="400.5" y1="109.57" x2="405.1" y2="109.57"/>
<line x1="680.5" y1="109.57" x2="675.9" y2="109.57"/>
<line x1="400.5" y1="100.66" x2="405.1" y2="100.66"/>
<line x1="680.5" y1="100.66" x2="675.9" y2="100.66"/>
<line x1="400.5" y1="94.34" x2="405.1" y2="94.34"/>
<line x1="680.5" y1="94.34" x2="675.9" y2="94.34"/>
<line x1="400.5" y1="89.43" x2="405.1" y2="89.43"/>
<line x1="680.5" y1="89.43" x2="675.9" y2="89.43"/>
<line x1="400.5" y1="85.43" x2="405.1" y2="85.43"/>
<line x1="680.5" y1="85.43" x2="675.9" y2="85.43"/>
<line x1="400.5" y1="82.04" x2="405.1" y2="82.04"/>
<line x1="680.5" y1="82.04" x2="675.9" y2="82.04"/>
<line x1="400.5" y1="79.1" x2="405.1" y2="79.1"/>
<line x1="680.5" y1="79.1" x2="675.9" y2="79.1"/>
<line x1="400.5" y1="76.52" x2="405.1" y2="76.52"/>
<line x1="680.5" y1="76.52" x2="675.9" y2="76.52"/>
<line x1="400.5" y1="74.2" x2="409.5" y2="74.2"/>
<line x1="680.5" y1="74.2" x2="671.5" y2="74.2"/>
<line x1="400.5" y1="58.97" x2="405.1" y2="58.97"/>
<line x1="680.5" y1="58.97" x2="675.9" y2="58.97"/>
<line x1="400.5" y1="50.06" x2="405.1" y2="50.06"/>
<line x1="680.5" y1="50.06" x2="675.9" y2="50.06"/>
<line x1="400.5" y1="43.74" x2="405.1" y2="43.74"/>
<line x1="680.5" y1="43.74" x2="675.9" y2="43.74"/>
<line x1="400.5" y1="38.83" x2="405.1" y2="38.83"/>
<line x1="680.5" y1="38.83" x2="675.9" y2="38.83"/>
<line x1="400.5" y1="34.83" x2="405.1" y2="34.83"/>
<line x1="680.5" y1="34.83" x2="675.9" y2="34.83"/>
<line x1="400.5" y1="31.44" x2="405.1" y2="31.44"/>
<line x1="680.5" y1="31.44" x2="675.9" y2="31.44"/>
<line x1="400.5" y1="28.5" x2="405.1" y2="28.5"/>
<line x1="680.5" y1="28.5" x2="675.9" y2="28.5"/>
<line x1="400.5" y1="25.92" x2="405.1" y2="25.92"/>
<line x1="680.5" y1="25.92" x2="675.9" y2="25.92"/>
<line x1="400.5" y1="23.6" x2="409.5" y2="23.6"/>
<line x1="680.5" y1="23.6" x2="671.5" y2="23.6"/>
<line x1="400.5" y1="8.37" x2="405.1" y2="8.37"/>
<line x1="680.5" y1="8.37" x2="675.9" y2="8.37"/></g>
<path d="M400.5,202.2 L400.5,189.2 L406.1,189.2 L406.1,202.2 L411.7,202.2 L411.7,202.2 L417.3,202.2 L417.3,202.2 L422.9,202.2 L422.9,202.2 L428.5,202.2 L428.5,202.2 L434.1,202.2 L434.1,202.2 L439.7,202.2 L439.7,202.2 L445.3,202.2 L445.3,202.2 L450.9,202.2 L450.9,202.2 L456.5,202.2 L456.5,202.2 L462.1,202.2 L462.1,202.2 L467.7,202.2 L467.7,202.2 L473.3,202.2 L473.3,202.2 L478.9,202.2 L478.9,200 L484.5,200 L484.5,202.2 L490.1,202.2 L490.1,202.2 L495.7,202.2 L495.7,194.2 L501.3,194.2 L501.3,202.2 L506.9,202.2 L506.9,182.4 L512.5,182.4 L512.5,165.8 L518.1,165.8 L518.1,189.8 L523.7,189.8 L523.7,151.5 L529.3,151.5 L529.3,159.8 L534.9,159.8 L534.9,138.8 L540.5,138.8 L540.5,119.7 L546.1,119.7 L546.1,86.2 L551.7,86.2 L551.7,56.6 L557.3,56.6 L557.3,42.5 L562.9,42.5 L562.9,30.3 L568.5,30.3 L568.5,23.3 L574.1,23.3 L574.1,19.2 L579.7,19.2 L579.7,15.3 L585.3,15.3 L585.3,15.8 L590.9,15.8 L590.9,21 L596.5,21 L596.5,30.8 L602.1,30.8 L602.1,41.7 L607.7,41.7 L607.7,56.9 L613.3,56.9 L613.3,78.4 L618.9,78.4 L618.9,100.6 L624.5,100.6 L624.5,150.8 L630.1,150.8 L630.1,174 L635.7,174 L635.7,202.2 L641.3,202.2 L641.3,202.2 L646.9,202.2 L646.9,202.2 L652.5,202.2 L652.5,202.2 L658.1,202.2 L658.1,202.2 L663.7,202.2 L663.7,202.2 L669.3,202.2 L669.3,202.2 L674.9,202.2 L674.9,202.2 L680.5,202.2 L680.5,202.2" fill="none" stroke="#f00" stroke-width="1.15"/>
<path d="M400.5,202.2 L400.5,202.2 L406.1,202.2 L406.1,202.2 L411.7,202.2 L411.7,202.2 L417.3,202.2 L417.3,202.2 L422.9,202.2 L422.9,196.5 L428.5,196.5 L428.5,202.2 L434.1,202.2 L434.1,202.2 L439.7,202.2 L439.7,202.2 L445.3,202.2 L445.3,202.2 L450.9,202.2 L450.9,202.2 L456.5,202.2 L456.5,202.2 L462.1,202.2 L462.1,202.2 L467.7,202.2 L467.7,202.2 L473.3,202.2 L473.3,202.2 L478.9,202.2 L478.9,202.2 L484.5,202.2 L484.5,202.2 L490.1,202.2 L490.1,172.9 L495.7,172.9 L495.7,189.9 L501.3,189.9 L501.3,172.9 L506.9,172.9 L506.9,187.7 L512.5,187.7 L512.5,172.1 L518.1,172.1 L518.1,150.8 L523.7,150.8 L523.7,150.8 L529.3,150.8 L529.3,141.1 L534.9,141.1 L534.9,119.5 L540.5,119.5 L540.5,86.2 L546.1,86.2 L546.1,62.3 L551.7,62.3 L551.7,46.3 L557.3,46.3 L557.3,32.9 L562.9,32.9 L562.9,27.7 L568.5,27.7 L568.5,21.6 L574.1,21.6 L574.1,18 L579.7,18 L579.7,14.4 L585.3,14.4 L585.3,16.9 L590.9,16.9 L590.9,25.6 L596.5,25.6 L596.5,37.3 L602.1,37.3 L602.1,50.1 L607.7,50.1 L607.7,70.5 L613.3,70.5 L613.3,91.9 L618.9,91.9 L618.9,120.8 L624.5,120.8 L624.5,193.8 L630.1,193.8 L630.1,202.2 L635.7,202.2 L635.7,202.2 L641.3,202.2 L641.3,202.2 L646.9,202.2 L646.9,202.2 L652.5,202.2 L652.5,202.2 L658.1,202.2 L658.1,202.2 L663.7,202.2 L663.7,202.2 L669.3,202.2 L669.3,202.2 L674.9,202.2 L674.9,202.2 L680.5,202.2 L680.5,202.2" fill="none" stroke="#00f" stroke-width="1.35"/>
<g stroke="#111" stroke-width="1.25" fill="#000"><line x1="453.7" y1="160.17" x2="453.7" y2="202.2"/>
<circle cx="453.7" cy="175.4" r="1.45" stroke="none"/>
<path d="M451,175.4 L453.7,174.2 L456.4,175.4 L453.7,176.6 Z" stroke="none"/>
<line x1="515.3" y1="160.17" x2="515.3" y2="202.2"/>
<circle cx="515.3" cy="175.4" r="1.45" stroke="none"/>
<path d="M512.6,175.4 L515.3,174.2 L518,175.4 L515.3,176.6 Z" stroke="none"/>
<line x1="520.9" y1="160.17" x2="520.9" y2="202.2"/>
<circle cx="520.9" cy="175.4" r="1.45" stroke="none"/>
<path d="M518.2,175.4 L520.9,174.2 L523.6,175.4 L520.9,176.6 Z" stroke="none"/>
<line x1="532.1" y1="148.42" x2="532.1" y2="187.15"/>
<circle cx="532.1" cy="160.17" r="1.45" stroke="none"/>
<path d="M529.4,160.17 L532.1,158.97 L534.8,160.17 L532.1,161.37 Z" stroke="none"/>
<line x1="537.7" y1="136.03" x2="537.7" y2="160.17"/>
<circle cx="537.7" cy="144.94" r="1.45" stroke="none"/>
<path d="M535,144.94 L537.7,143.74 L540.4,144.94 L537.7,146.14 Z" stroke="none"/>
<line x1="543.3" y1="108.37" x2="543.3" y2="119.24"/>
<circle cx="543.3" cy="113.14" r="1.45" stroke="none"/>
<path d="M540.6,113.14 L543.3,111.94 L546,113.14 L543.3,114.34 Z" stroke="none"/>
<line x1="548.9" y1="80.47" x2="548.9" y2="85.86"/>
<circle cx="548.9" cy="83" r="1.45" stroke="none"/>
<path d="M546.2,83 L548.9,81.8 L551.6,83 L548.9,84.2 Z" stroke="none"/>
<line x1="554.5" y1="56.03" x2="554.5" y2="59.04"/>
<circle cx="554.5" cy="57.48" r="1.45" stroke="none"/>
<path d="M551.8,57.48 L554.5,56.28 L557.2,57.48 L554.5,58.68 Z" stroke="none"/>
<line x1="560.1" y1="41.46" x2="560.1" y2="43.6"/>
<circle cx="560.1" cy="42.51" r="1.45" stroke="none"/>
<path d="M557.4,42.51 L560.1,41.31 L562.8,42.51 L560.1,43.71 Z" stroke="none"/>
<line x1="565.7" y1="28.62" x2="565.7" y2="30.21"/>
<circle cx="565.7" cy="29.4" r="1.45" stroke="none"/>
<path d="M563,29.4 L565.7,28.2 L568.4,29.4 L565.7,30.6 Z" stroke="none"/>
<line x1="571.3" y1="20.95" x2="571.3" y2="22.28"/>
<circle cx="571.3" cy="21.61" r="1.45" stroke="none"/>
<path d="M568.6,21.61 L571.3,20.41 L574,21.61 L571.3,22.81 Z" stroke="none"/>
<line x1="576.9" y1="16.8" x2="576.9" y2="18.01"/>
<circle cx="576.9" cy="17.4" r="1.45" stroke="none"/>
<path d="M574.2,17.4 L576.9,16.2 L579.6,17.4 L576.9,18.6 Z" stroke="none"/>
<line x1="582.5" y1="13.74" x2="582.5" y2="14.87"/>
<circle cx="582.5" cy="14.3" r="1.45" stroke="none"/>
<path d="M579.8,14.3 L582.5,13.1 L585.2,14.3 L582.5,15.5 Z" stroke="none"/>
<line x1="588.1" y1="14.93" x2="588.1" y2="16.08"/>
<circle cx="588.1" cy="15.5" r="1.45" stroke="none"/>
<path d="M585.4,15.5 L588.1,14.3 L590.8,15.5 L588.1,16.7 Z" stroke="none"/>
<line x1="593.7" y1="20.95" x2="593.7" y2="22.28"/>
<circle cx="593.7" cy="21.61" r="1.45" stroke="none"/>
<path d="M591,21.61 L593.7,20.41 L596.4,21.61 L593.7,22.81 Z" stroke="none"/>
<line x1="599.3" y1="30.38" x2="599.3" y2="32.03"/>
<circle cx="599.3" cy="31.19" r="1.45" stroke="none"/>
<path d="M596.6,31.19 L599.3,29.99 L602,31.19 L599.3,32.39 Z" stroke="none"/>
<line x1="604.9" y1="40.96" x2="604.9" y2="43.08"/>
<circle cx="604.9" cy="41.99" r="1.45" stroke="none"/>
<path d="M602.2,41.99 L604.9,40.79 L607.6,41.99 L604.9,43.19 Z" stroke="none"/>
<line x1="610.5" y1="56.03" x2="610.5" y2="59.04"/>
<circle cx="610.5" cy="57.48" r="1.45" stroke="none"/>
<path d="M607.8,57.48 L610.5,56.28 L613.2,57.48 L610.5,58.68 Z" stroke="none"/>
<line x1="616.1" y1="80.47" x2="616.1" y2="85.86"/>
<circle cx="616.1" cy="83" r="1.45" stroke="none"/>
<path d="M613.4,83 L616.1,81.8 L618.8,83 L616.1,84.2 Z" stroke="none"/>
<line x1="621.7" y1="112.2" x2="621.7" y2="124.24"/>
<circle cx="621.7" cy="117.41" r="1.45" stroke="none"/>
<path d="M619,117.41 L621.7,116.21 L624.4,117.41 L621.7,118.61 Z" stroke="none"/>
<line x1="627.3" y1="148.42" x2="627.3" y2="187.15"/>
<circle cx="627.3" cy="160.17" r="1.45" stroke="none"/>
<path d="M624.6,160.17 L627.3,158.97 L630,160.17 L627.3,161.37 Z" stroke="none"/></g>
<g font-size="10.3"><text x="399.8" y="216.6" text-anchor="middle">0</text>
<text x="427.8" y="216.6" text-anchor="middle">0.1</text>
<text x="455.8" y="216.6" text-anchor="middle">0.2</text>
<text x="483.8" y="216.6" text-anchor="middle">0.3</text>
<text x="511.8" y="216.6" text-anchor="middle">0.4</text>
<text x="539.8" y="216.6" text-anchor="middle">0.5</text>
<text x="567.8" y="216.6" text-anchor="middle">0.6</text>
<text x="595.8" y="216.6" text-anchor="middle">0.7</text>
<text x="623.8" y="216.6" text-anchor="middle">0.8</text>
<text x="651.8" y="216.6" text-anchor="middle">0.9</text>
<text x="680.5" y="216.6" text-anchor="middle">1</text></g>
<g font-size="10.3"><text x="396.8" y="180" text-anchor="end">1</text>
<text x="396.2" y="130" text-anchor="end">10</text>
<text x="392.7" y="78.9" text-anchor="end">10</text>
<text x="392.4" y="73.9" font-size="7">2</text>
<text x="392.7" y="28.3" text-anchor="end">10</text>
<text x="392.4" y="23.3" font-size="7">3</text></g>
<text x="663.4" y="235.8" font-size="11.2">w</text><text x="671.6" y="239.6" font-size="8.6">s3</text>
<text transform="translate(365.4,75) rotate(-90)" font-size="12">Entries/0.02</text>
<text x="421.8" y="18.8" font-size="12" font-weight="bold" font-style="italic">ATLAS</text>
<path d="M416.1,29.7 L416.9,33.7 L416.9,25.5 L423.3,25.5" fill="none" stroke="#222" stroke-width="0.8"/>
<text x="419.1" y="33.7" font-size="9.75">s=8 TeV,</text>
<path d="M464.3,21.2 C463.3,19.1 462.5,21.1 462.4,24.7 L462.4,35.5 C462.3,39.1 461.5,40.5 460.3,38.7" fill="none" stroke="#222" stroke-width="1.3"/>
<text x="465.1" y="33.7" font-size="9.4">Ldt=20.3 fb<tspan dx="0.3" dy="-3.7" font-size="5.9">-1</tspan></text>
<text x="440.6" y="48.1" font-size="9.4">Converted <tspan font-family="Liberation Serif" font-size="10.2">γ</tspan></text>
<line x1="406.7" y1="60" x2="419.3" y2="60" stroke="#000" stroke-width="1"/>
<circle cx="413" cy="60" r="1.5" fill="#000"/>
<text x="421.5" y="63.6" font-size="9.3">Z</text>
<path d="M427.9,60.6 L434.7,60.6" stroke="#222" stroke-width="0.9" fill="none"/>
<path d="M433.3,58.9 L435.9,60.6 L433.3,62.3 Z" fill="#222"/>
<text x="436.6" y="63.6" font-size="9.3">ll<tspan font-family="Liberation Serif" font-size="10.2">γ</tspan> data</text>
<rect x="407.2" y="71.4" width="11.8" height="11.6" fill="none" stroke="#f00" stroke-width="1.1"/>
<text x="421.5" y="80.7" font-size="9.3">Z</text>
<path d="M427.9,77.7 L434.7,77.7" stroke="#222" stroke-width="0.9" fill="none"/>
<path d="M433.3,76 L435.9,77.7 L433.3,79.4 Z" fill="#222"/>
<text x="436.6" y="80.7" font-size="9.3">ll<tspan font-family="Liberation Serif" font-size="10.2">γ</tspan> corrected MC</text>
<rect x="407.2" y="88.3" width="11.8" height="11.8" fill="url(#hatch)" stroke="#00f" stroke-width="1.5"/>
<text x="421.5" y="97.8" font-size="9.3">Z</text>
<path d="M427.9,94.8 L434.7,94.8" stroke="#222" stroke-width="0.9" fill="none"/>
<path d="M433.3,93.1 L435.9,94.8 L433.3,96.5 Z" fill="#222"/>
<text x="436.6" y="97.8" font-size="9.3">ll<tspan font-family="Liberation Serif" font-size="10.2">γ</tspan> uncorrected MC</text>
<text x="176.7" y="254.6" font-family="Liberation Serif" font-weight="bold" font-size="14.5">(a)</text>
<text x="531.2" y="254.6" font-family="Liberation Serif" font-weight="bold" font-size="14.5">(b)</text>
</svg>
</body></html>
